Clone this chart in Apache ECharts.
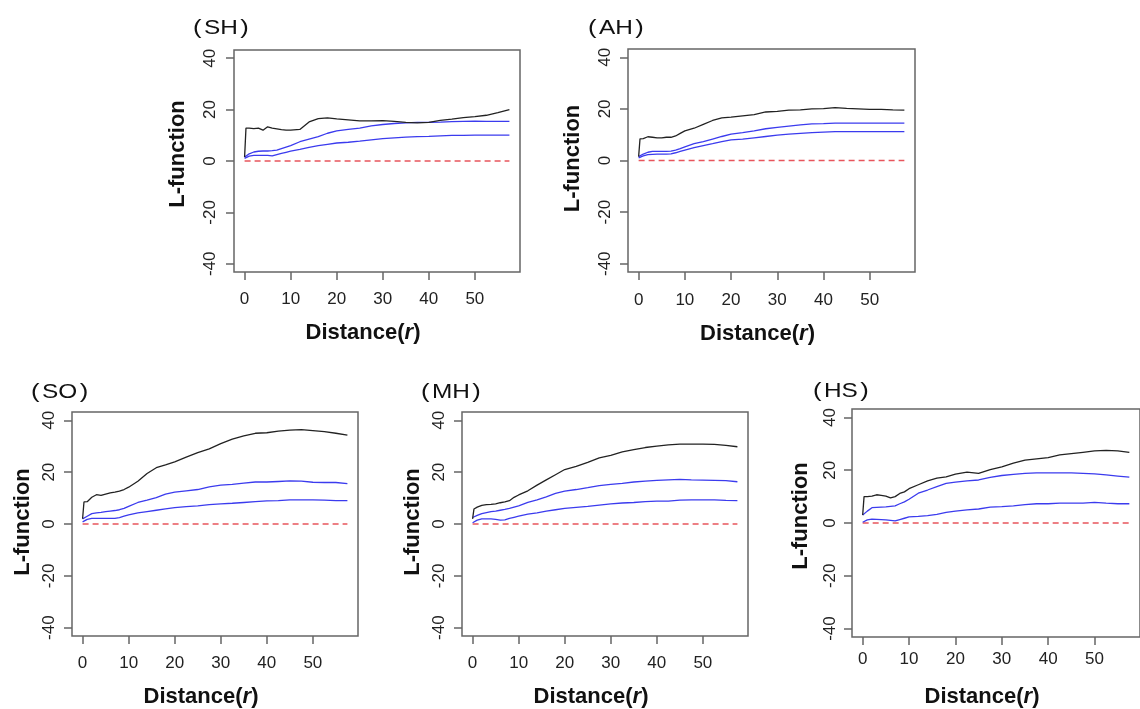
<!DOCTYPE html>
<html><head><meta charset="utf-8">
<script src="https://cdn.jsdelivr.net/npm/echarts@6/dist/echarts.min.js"></script>
<style>html,body{margin:0;padding:0;background:#fff}#c{width:1140px;height:709px}</style>
</head><body><div id="c"></div>
<script>
// ---------- data ----------
const distance = [0, 0.3, 1, 2, 3, 4, 5, 6, 7, 8, 9, 10, 12, 14, 16, 18, 20, 22.5, 25, 27.5, 30, 32.5, 35, 37.5, 40, 42.5, 45, 47.5, 50, 52.5, 55, 57.5];
const xTicks = [0, 10, 20, 30, 40, 50];
const yTicks = [-40, -20, 0, 20, 40];
const panelCodes = ['SH', 'AH', 'SO', 'MH', 'HS'];
const theoretical = [0, 0];
const theoreticalX = [0, 57.5];

const shObserved = [1.5, 12.8, 12.8, 12.6, 12.8, 12.0, 13.3, 12.8, 12.5, 12.2, 12.0, 12.0, 12.3, 15.2, 16.5, 16.8, 16.4, 16.0, 15.6, 15.6, 15.7, 15.4, 15.0, 14.8, 15.0, 15.8, 16.3, 16.9, 17.3, 17.8, 18.8, 20.0];
const shUpper = [1.5, 2.0, 2.8, 3.5, 3.8, 3.9, 3.9, 4.0, 4.2, 4.8, 5.4, 6.0, 7.5, 8.5, 9.5, 10.8, 11.7, 12.3, 12.8, 13.7, 14.2, 14.6, 14.8, 15.0, 15.0, 15.1, 15.3, 15.4, 15.5, 15.4, 15.4, 15.4];
const shLower = [1.0, 1.4, 1.9, 2.2, 2.2, 2.2, 2.2, 2.0, 2.5, 3.0, 3.4, 3.8, 4.5, 5.3, 6.0, 6.5, 7.0, 7.3, 7.7, 8.2, 8.7, 9.0, 9.3, 9.5, 9.6, 9.8, 10.0, 10.0, 10.1, 10.1, 10.1, 10.1];

const ahObserved = [1.5, 8.4, 8.5, 9.2, 9.0, 8.8, 8.8, 9.0, 9.0, 9.5, 10.5, 11.5, 12.5, 14.0, 15.5, 16.5, 16.8, 17.3, 17.8, 18.8, 19.0, 19.5, 19.6, 20.0, 20.1, 20.5, 20.2, 20.0, 19.8, 19.8, 19.6, 19.5];
const ahUpper = [1.5, 1.9, 2.5, 3.2, 3.5, 3.5, 3.5, 3.5, 3.6, 4.0, 4.6, 5.3, 6.5, 7.3, 8.3, 9.3, 10.2, 10.8, 11.5, 12.3, 12.8, 13.3, 13.8, 14.2, 14.3, 14.5, 14.5, 14.5, 14.5, 14.5, 14.5, 14.5];
const ahLower = [1.0, 1.4, 1.8, 2.3, 2.4, 2.5, 2.5, 2.5, 2.6, 3.0, 3.5, 4.0, 5.0, 5.8, 6.5, 7.3, 8.0, 8.3, 8.8, 9.3, 9.8, 10.2, 10.5, 10.8, 11.0, 11.2, 11.2, 11.2, 11.2, 11.2, 11.2, 11.2];

const soObserved = [2.0, 8.5, 8.6, 10.3, 11.3, 11.0, 11.5, 12.0, 12.3, 12.7, 13.3, 14.2, 16.5, 19.5, 21.7, 22.8, 24.0, 25.8, 27.5, 29.0, 31.0, 32.7, 34.0, 35.0, 35.2, 35.8, 36.2, 36.4, 36.0, 35.6, 35.0, 34.3];
const soUpper = [2.0, 2.5, 3.0, 4.0, 4.3, 4.5, 4.8, 5.0, 5.2, 5.5, 6.0, 6.8, 8.3, 9.2, 10.2, 11.5, 12.3, 12.8, 13.3, 14.3, 15.0, 15.3, 15.8, 16.2, 16.2, 16.4, 16.6, 16.5, 16.1, 16.0, 16.0, 15.6];
const soLower = [0.8, 1.3, 1.8, 2.2, 2.2, 2.2, 2.2, 2.2, 2.2, 2.5, 3.0, 3.5, 4.3, 4.8, 5.3, 5.8, 6.3, 6.7, 7.0, 7.5, 7.8, 8.0, 8.3, 8.6, 8.9, 9.0, 9.3, 9.3, 9.3, 9.2, 9.0, 9.0];

const mhObserved = [2.0, 5.8, 6.5, 7.2, 7.5, 7.6, 7.8, 8.2, 8.5, 9.0, 10.3, 11.2, 12.8, 15.0, 17.0, 19.0, 21.0, 22.2, 23.8, 25.5, 26.5, 27.8, 28.7, 29.5, 30.0, 30.5, 30.8, 30.8, 30.8, 30.7, 30.3, 29.8];
const mhUpper = [2.5, 2.8, 3.3, 4.0, 4.4, 4.8, 5.0, 5.3, 5.6, 6.0, 6.5, 7.0, 8.3, 9.3, 10.5, 11.8, 12.7, 13.3, 14.0, 14.8, 15.3, 15.7, 16.2, 16.5, 16.8, 17.0, 17.2, 17.0, 16.9, 16.8, 16.7, 16.3];
const mhLower = [0.5, 1.0, 1.5, 2.0, 2.0, 2.0, 1.8, 1.5, 1.6, 2.2, 2.6, 3.0, 3.8, 4.3, 5.0, 5.5, 6.0, 6.4, 6.8, 7.3, 7.8, 8.1, 8.3, 8.6, 8.8, 8.8, 9.2, 9.3, 9.3, 9.3, 9.1, 9.0];

const hsObserved = [3.0, 10.0, 10.0, 10.2, 10.7, 10.5, 10.2, 9.5, 10.0, 11.2, 11.8, 13.0, 14.5, 16.0, 17.0, 17.5, 18.5, 19.3, 18.8, 20.2, 21.3, 22.7, 23.8, 24.3, 24.8, 25.8, 26.3, 26.8, 27.3, 27.5, 27.3, 26.8];
const hsUpper = [3.0, 3.5, 4.5, 5.8, 5.9, 6.0, 6.1, 6.3, 6.5, 7.3, 8.0, 9.0, 11.3, 12.5, 13.8, 15.0, 15.5, 16.0, 16.3, 17.3, 18.0, 18.4, 18.8, 19.0, 19.0, 19.0, 19.0, 18.8, 18.6, 18.2, 17.8, 17.4];
const hsLower = [0.3, 0.6, 1.2, 1.5, 1.4, 1.3, 1.2, 1.0, 0.8, 1.3, 1.8, 2.3, 2.5, 2.8, 3.3, 4.0, 4.5, 5.0, 5.3, 6.0, 6.2, 6.5, 7.0, 7.3, 7.3, 7.5, 7.5, 7.5, 7.8, 7.5, 7.3, 7.3];

const observedSets = [shObserved, ahObserved, soObserved, mhObserved, hsObserved];
const upperSets = [shUpper, ahUpper, soUpper, mhUpper, hsUpper];
const lowerSets = [shLower, ahLower, soLower, mhLower, hsLower];

// ---------- layout (positions only) ----------
const layout = [
  {left: 234, top: 50, width: 286, height: 222, xm: 18.5, ym: 15, yGap: 45, yShift: 14, xGap: 50, tx: 193, ty: 28},
  {left: 628, top: 49, width: 287, height: 223, xm: 19.5, ym: 14, yGap: 44, yShift: 4, xGap: 51, tx: 588, ty: 28},
  {left: 72, top: 412, width: 286, height: 224, xm: 18.5, ym: 14, yGap: 38, yShift: 4, xGap: 50, tx: 31, ty: 392},
  {left: 462, top: 412, width: 286, height: 224, xm: 18.5, ym: 14, yGap: 38, yShift: 4, xGap: 50, tx: 421, ty: 392},
  {left: 852, top: 409, width: 294, height: 232, xm: 14, ym: 13, yGap: 40, yShift: 14, xGap: 49, tx: 813, ty: 391}
];

const pair = (xs, ys) => xs.map((x, i) => [x, ys[i]]);
const FONT = '"Liberation Sans", Arial, sans-serif';
const boxColor = '#666666';

const grids = [], xAxes = [], yAxes = [], series = [], graphics = [];
layout.forEach((L, i) => {
  grids.push({left: L.left, top: L.top, width: L.width, height: L.height, show: true,
    borderColor: boxColor, borderWidth: 1.5, backgroundColor: 'transparent', containLabel: false});
  xAxes.push({type: 'value', gridIndex: i, min: -2.3, max: 59.8,
    axisLine: {show: false, onZero: false}, splitLine: {show: false},
    axisTick: {show: true, inside: false, length: 8, customValues: xTicks, lineStyle: {color: boxColor, width: 1.5}},
    axisLabel: {show: true, customValues: xTicks, margin: L.xm, color: '#222', fontSize: 17, fontFamily: FONT},
    name: '{b|Distance(}{i|r}{b|)}', nameLocation: 'middle', nameGap: L.xGap,
    nameTextStyle: {padding: [0, 28, 0, 0], rich: {
      b: {fontSize: 22, fontWeight: 'bold', fontFamily: FONT, color: '#111'},
      i: {fontSize: 22, fontWeight: 'bold', fontStyle: 'italic', fontFamily: FONT, color: '#111'}}}
  });
  yAxes.push({type: 'value', gridIndex: i, min: -43.2, max: 43.2,
    axisLine: {show: false, onZero: false}, splitLine: {show: false},
    axisTick: {show: true, inside: false, length: 8, customValues: yTicks, lineStyle: {color: boxColor, width: 1.5}},
    axisLabel: {show: true, customValues: yTicks, rotate: 90, margin: L.ym, color: '#222', fontSize: 17, fontFamily: FONT},
    name: 'L-function', nameLocation: 'middle', nameGap: L.yGap, nameRotate: 90,
    nameTextStyle: {fontSize: 22, fontWeight: 'bold', fontFamily: FONT, color: '#111', padding: [0, 0, 0, L.yShift]}
  });
  graphics.push({type: 'text', x: L.tx, y: L.ty, scaleX: 1.22, silent: true,
    style: {text: '{p|(}{l|' + panelCodes[i] + '}{p|)}', verticalAlign: 'middle', align: 'left',
      rich: {
        p: {fontSize: 21, fontFamily: FONT, fill: '#111'},
        l: {fontSize: 20, fontFamily: FONT, fill: '#111', padding: [0, 2, 0, 2]}
      }}});
  series.push({type: 'line', xAxisIndex: i, yAxisIndex: i, data: pair(theoreticalX, theoretical),
    showSymbol: false, silent: true, lineStyle: {color: '#e8555c', width: 1.3, type: [6, 4]}});
  series.push({type: 'line', xAxisIndex: i, yAxisIndex: i, data: pair(distance, lowerSets[i]),
    showSymbol: false, silent: true, lineStyle: {color: '#3b3bee', width: 1.3}});
  series.push({type: 'line', xAxisIndex: i, yAxisIndex: i, data: pair(distance, upperSets[i]),
    showSymbol: false, silent: true, lineStyle: {color: '#3b3bee', width: 1.3}});
  series.push({type: 'line', xAxisIndex: i, yAxisIndex: i, data: pair(distance, observedSets[i]),
    showSymbol: false, silent: true, lineStyle: {color: '#222', width: 1.3}});
});

const chart = echarts.init(document.getElementById('c'), null, {renderer: 'canvas'});
chart.setOption({animation: false, backgroundColor: '#fff', graphic: graphics, grid: grids, xAxis: xAxes, yAxis: yAxes, series: series});
</script></body></html>
